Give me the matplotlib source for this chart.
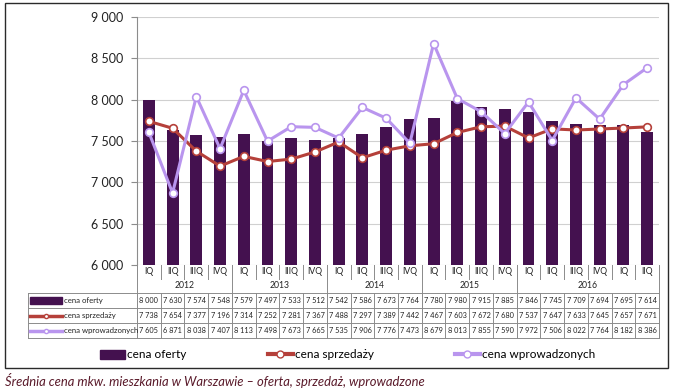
import numpy as np
import matplotlib.pyplot as plt
from matplotlib.patches import Rectangle
from matplotlib.lines import Line2D

quarters = ['IQ', 'IIQ', 'IIIQ', 'IVQ'] * 5 + ['IQ', 'IIQ']
years = ['2012', '2013', '2014', '2015', '2016']
year_len = [4, 4, 4, 4, 6]

oferta = [8000, 7630, 7574, 7548, 7579, 7497, 7533, 7512, 7542, 7586, 7673, 7764,
          7780, 7980, 7915, 7885, 7846, 7745, 7709, 7694, 7695, 7614]
sprzedaz = [7738, 7654, 7377, 7196, 7314, 7252, 7281, 7367, 7488, 7297, 7389, 7442,
            7467, 7603, 7672, 7680, 7537, 7647, 7633, 7645, 7657, 7671]
wprowadzone = [7605, 6871, 8038, 7407, 8113, 7498, 7673, 7665, 7535, 7906, 7776, 7473,
               8679, 8013, 7855, 7590, 7972, 7506, 8022, 7764, 8182, 8386]

series_names = ['cena oferty', 'cena sprzedaży', 'cena wprowadzonych']

c_bar = '#44114f'
c_red = '#b5403a'
c_lil = '#b995ee'
c_grid = '#d0d0d0'
c_tab = '#8c8c8c'

W, H = 673, 388
fig = plt.figure(figsize=(W / 100, H / 100), dpi=100)
tf = 'Lato'

def px(x0, y0, x1, y1):
    return [x0 / W, 1 - y1 / H, (x1 - x0) / W, (y1 - y0) / H]

def fmt(v):
    return f'{v:,}'.replace(',', ' ')

# frame
fig.patches.append(Rectangle((5 / W, 1 - 368 / H), 663 / W, 365 / H, transform=fig.transFigure,
                             fill=False, edgecolor='#2a2a2a', lw=1.0))

ax = fig.add_axes(px(137, 17, 659, 265))
x = np.arange(len(oferta))
ax.bar(x, oferta, width=0.5, color=c_bar, zorder=2)
ax.plot(x, sprzedaz, color=c_red, lw=2.2, marker='o', ms=5.5, mfc='white', mec=c_red, mew=1.2, zorder=3)
ax.plot(x, wprowadzone, color=c_lil, lw=2.2, marker='o', ms=5.5, mfc='white', mec=c_lil, mew=1.2, zorder=4)
ax.set_xlim(-0.5, len(x) - 0.5)
ax.set_ylim(6000, 9000)
yt = np.arange(6000, 9001, 500)
ax.set_yticks(yt)
ax.set_yticklabels([fmt(v) for v in yt], fontsize=9, family=tf, color='#222222')
ax.tick_params(axis='y', length=4, color=c_tab, pad=6)
ax.set_xticks([])
ax.grid(axis='y', color=c_grid, lw=0.8, zorder=0)
for s in ['top', 'right', 'bottom']:
    ax.spines[s].set_visible(False)
ax.spines['left'].set_color(c_tab)

# table below axes, same x scale; y in pixels
tab = fig.add_axes(px(137, 265, 659, 338))
tab.set_xlim(-0.5, len(x) - 0.5)
tab.set_ylim(338, 265)
tab.axis('off')
n = len(x)
cw = 522 / n
lk = dict(color=c_tab, lw=0.7, clip_on=False)

def xd(p):
    return -0.5 + (p - 137) / cw

# quarter separators
for i in range(n + 1):
    tab.plot([i - 0.5, i - 0.5], [265, 279], **lk)
for i, q in enumerate(quarters):
    tab.text(i, 271, q, ha='center', va='center', fontsize=6.2, family=tf, color='#222222')
# year separators
bounds = list(np.cumsum([0] + year_len))
for bb in bounds:
    tab.plot([bb - 0.5, bb - 0.5], [265, 338], **lk)
for k, yr in enumerate(years):
    tab.text((bounds[k] + bounds[k + 1] - 1) / 2, 285, yr, ha='center', va='center',
             fontsize=6.2, family=tf, color='#222222')
# data rows
rows = [oferta, sprzedaz, wprowadzone]
ytop = [293, 308, 323]
xl = xd(28)
for yy in ytop + [338]:
    tab.plot([xl, n - 0.5], [yy, yy], **lk)
tab.plot([xl, xl], [293, 338], **lk)
for i in range(n + 1):
    tab.plot([i - 0.5, i - 0.5], [293, 338], **lk)
for r, vals in enumerate(rows):
    yc = ytop[r] + 7.5
    for i, v in enumerate(vals):
        tab.text(i, yc, fmt(v), ha='center', va='center',
                 fontsize=5.3, family=tf, color='#222222')
# label column with small legend keys
for r, name in enumerate(series_names):
    yc = ytop[r] + 7.5
    if r == 0:
        tab.add_patch(Rectangle((xd(30), yc - 3.5), xd(62) - xd(30), 7, color=c_bar, clip_on=False))
    else:
        col = c_red if r == 1 else c_lil
        tab.plot([xd(30), xd(62)], [yc, yc], color=col, lw=2.5, clip_on=False)
        tab.plot([xd(46)], [yc], marker='o', ms=3, mfc='white', mec=col, clip_on=False)
    tab.text(xd(64), yc, name, ha='left', va='center', fontsize=5.6, family=tf, color='#222222')

# legend, one entry per block
handles = [Rectangle((0, 0), 1, 1, color=c_bar),
           Line2D([], [], color=c_red, lw=3, marker='o', ms=5, mfc='white', mec=c_red),
           Line2D([], [], color=c_lil, lw=3, marker='o', ms=5, mfc='white', mec=c_lil)]
leg_x = [100, 268, 455]
for h, name, lx in zip(handles, series_names, leg_x):
    fig.legend([h], [name], loc='center left', bbox_to_anchor=(lx / W, 1 - 355 / H),
               frameon=False, handlelength=2.1, handleheight=0.7, handletextpad=0.15,
               borderpad=0, borderaxespad=0, prop={'family': tf, 'size': 8.5})

fig.text(5 / W, 1 - 380 / H, 'Średnia cena mkw. mieszkania w Warszawie – oferta, sprzedaż, wprowadzone',
         ha='left', va='center', fontsize=9.4, family=tf, style='italic', color='#5a1a2a')

fig.savefig('out.png', dpi=100)
